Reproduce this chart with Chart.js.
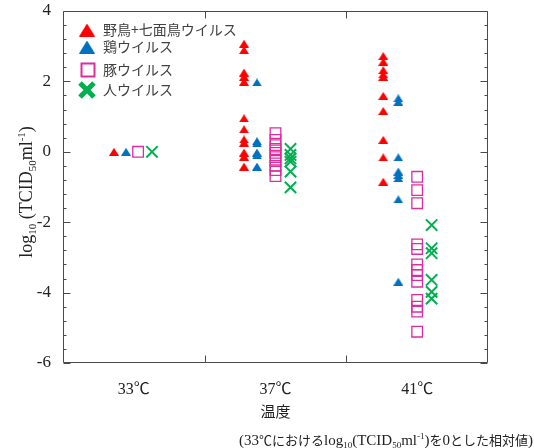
<!DOCTYPE html>
<html>
<head>
<meta charset="utf-8">
<script src="https://cdn.jsdelivr.net/npm/chart.js@4.4.0/dist/chart.umd.min.js"></script>
<style>
html, body { margin: 0; padding: 0; background: #fff; }
</style>
</head>
<body>
<canvas id="chart" width="534" height="448"></canvas>
<script>
// categories (temperature) and series names
var categories = ['33℃', '37℃', '41℃'];
var seriesNames = ['野鳥+七面鳥ウイルス', '鶏ウイルス', '豚ウイルス', '人ウイルス'];

// relative log10(TCID50/ml) values, one list per temperature
var wildBirdValues = [
    [0],
    [3.07, 2.89, 2.25, 2.13, 1.99, 0.95, 0.64, 0.35, 0.26, -0.02, -0.14, -0.42],
    [2.72, 2.56, 2.32, 2.2, 2.13, 1.59, 1.16, 0.34, -0.16, -0.85]
];
var chickenValues = [
    [0],
    [1.97, 0.3, 0.24, -0.02, -0.1, -0.42],
    [1.52, 1.42, -0.16, -0.56, -0.66, -0.75, -1.35, -3.69]
];
var swineValues = [
    [0],
    [0.53, 0.34, 0.19, 0.08, -0.03, -0.15, -0.26, -0.4, -0.52, -0.69],
    [-0.71, -1.09, -1.46, -2.63, -2.76, -3.2, -3.36, -3.5, -3.69, -4.21, -4.4, -4.54, -5.11]
];
var humanValues = [
    [0],
    [0.08, -0.09, -0.19, -0.28, -0.56, -1.01],
    [-2.08, -2.74, -2.88, -3.64, -3.98, -4.17]
];
var yTickValues = [-6, -4, -2, 0, 2, 4];

// horizontal offset of each series inside a temperature group [category][series]
var seriesOffsets = [
    [-0.14, -0.055, 0.03, 0.128],
    [-0.222, -0.131, 0, 0.106],
    [-0.239, -0.133, 0, 0.102]
];

var colors = ['#ff0000', '#0070c0', '#dd2c9e', '#00b050'];

function makeTriangle(color, w, h) {
    var cv = document.createElement('canvas');
    cv.width = w;
    cv.height = h;
    var c = cv.getContext('2d');
    c.fillStyle = color;
    c.beginPath();
    c.moveTo(w / 2, 0);
    c.lineTo(w, h);
    c.lineTo(0, h);
    c.closePath();
    c.fill();
    return cv;
}

function buildPoints(values, s) {
    var pts = [];
    values.forEach(function (list, c) {
        list.forEach(function (v) {
            pts.push({ x: c + seriesOffsets[c][s], y: v });
        });
    });
    return pts;
}

// draws a run of text pieces with their own font / vertical shift
function drawRich(ctx, segs, x, y, align) {
    var total = 0;
    segs.forEach(function (s) {
        ctx.font = s.font;
        s.w = ctx.measureText(s.t).width;
        total += s.w;
    });
    var cx = align === 'right' ? x - total : (align === 'center' ? x - total / 2 : x);
    ctx.textAlign = 'left';
    ctx.textBaseline = 'alphabetic';
    segs.forEach(function (s) {
        ctx.font = s.font;
        ctx.fillText(s.t, cx, y + (s.dy || 0));
        cx += s.w;
    });
}

var SERIF = "'Liberation Serif', 'Noto Sans CJK JP', serif";
var JP = "'Noto Sans CJK JP', sans-serif";

var framePlugin = {
    id: 'frame',
    afterDraw: function (chart) {
        var ctx = chart.ctx;
        var a = chart.chartArea;
        var xs = chart.scales.x, ys = chart.scales.y;
        var L = Math.round(a.left) + 0.5, R = Math.round(a.right) - 0.5;
        var T = Math.round(a.top) + 0.5, B = Math.round(a.bottom) - 0.5;

        ctx.save();
        ctx.strokeStyle = '#4a4a4a';
        ctx.lineWidth = 1;
        ctx.beginPath();
        ctx.rect(L, T, R - L, B - T);
        // minor ticks every 0.4
        for (var i = 1; i < 25; i++) {
            var yp = Math.round(ys.getPixelForValue(-6 + i * 0.4)) + 0.5;
            ctx.moveTo(L, yp); ctx.lineTo(L + 3, yp);
            ctx.moveTo(R, yp); ctx.lineTo(R - 3, yp);
        }
        // major ticks
        yTickValues.forEach(function (v) {
            var yp = Math.round(ys.getPixelForValue(v)) + 0.5;
            ctx.moveTo(L, yp); ctx.lineTo(L + 7, yp);
            ctx.moveTo(R, yp); ctx.lineTo(R - 7, yp);
        });
        // category separators
        for (var c = 1; c < categories.length; c++) {
            var xp = Math.round(xs.getPixelForValue(c - 0.5)) + 0.5;
            ctx.moveTo(xp, T); ctx.lineTo(xp, T + 7);
            ctx.moveTo(xp, B); ctx.lineTo(xp, B - 7);
        }
        ctx.stroke();

        // legend
        var lx = 87, ly = [30, 47, 70, 90];
        var bigRed = makeTriangle(colors[0], 16, 13);
        var bigBlue = makeTriangle(colors[1], 16, 13);
        ctx.drawImage(bigRed, lx - 8, ly[0] - 6.5);
        ctx.drawImage(bigBlue, lx - 8, ly[1] - 6.5);
        ctx.strokeStyle = colors[2];
        ctx.lineWidth = 2;
        ctx.strokeRect(lx - 5.5, ly[2] - 6.5, 13, 13);
        ctx.strokeStyle = colors[3];
        ctx.lineWidth = 5;
        ctx.beginPath();
        ctx.moveTo(lx - 7, ly[3] - 7); ctx.lineTo(lx + 7, ly[3] + 7);
        ctx.moveTo(lx + 7, ly[3] - 7); ctx.lineTo(lx - 7, ly[3] + 7);
        ctx.stroke();
        ctx.fillStyle = '#404040';
        ctx.font = '14px ' + JP;
        ctx.textAlign = 'left';
        ctx.textBaseline = 'middle';
        seriesNames.forEach(function (n, k) {
            ctx.fillText(n, 103, ly[k]);
        });

        // axis titles and note
        ctx.fillStyle = '#222';
        ctx.font = '15px ' + JP;
        ctx.textAlign = 'center';
        ctx.textBaseline = 'middle';
        ctx.fillText('温度', (a.left + a.right) / 2, 411);

        ctx.save();
        ctx.translate(31.5, 192);
        ctx.rotate(-Math.PI / 2);
        var big = '18px ' + SERIF, small = '11px ' + SERIF;
        drawRich(ctx, [
            { t: 'log', font: big },
            { t: '10', font: small, dy: 4 },
            { t: ' (TCID', font: big },
            { t: '50', font: small, dy: 4 },
            { t: 'ml', font: big },
            { t: '-1', font: small, dy: -7 },
            { t: ')', font: big }
        ], 0, 0, 'center');
        ctx.restore();

        var lf = '15px ' + SERIF, sf = '9px ' + SERIF, jf = '13px ' + JP;
        drawRich(ctx, [
            { t: '(33', font: lf },
            { t: '℃における', font: jf },
            { t: 'log', font: lf },
            { t: '10', font: sf, dy: 3 },
            { t: '(TCID', font: lf },
            { t: '50', font: sf, dy: 3 },
            { t: 'ml', font: lf },
            { t: '-1', font: sf, dy: -6 },
            { t: ')', font: lf },
            { t: 'を', font: jf },
            { t: '0', font: lf },
            { t: 'とした相対値', font: jf },
            { t: ')', font: lf }
        ], 533, 445, 'right');
        ctx.restore();
    }
};

var datasets = [
    { label: seriesNames[0], data: buildPoints(wildBirdValues, 0), pointStyle: makeTriangle(colors[0], 10, 8) },
    { label: seriesNames[1], data: buildPoints(chickenValues, 1), pointStyle: makeTriangle(colors[1], 10, 8) },
    {
        label: seriesNames[2], data: buildPoints(swineValues, 2), pointStyle: 'rect',
        pointRadius: 7.5, borderColor: colors[2], backgroundColor: 'rgba(0,0,0,0)', borderWidth: 1.3
    },
    {
        label: seriesNames[3], data: buildPoints(humanValues, 3), pointStyle: 'crossRot',
        pointRadius: 8, borderColor: colors[3], backgroundColor: colors[3], borderWidth: 2
    }
];

var chart = new Chart(document.getElementById('chart').getContext('2d'), {
    type: 'scatter',
    data: { datasets: datasets },
    options: {
        responsive: false,
        animation: false,
        events: [],
        layout: { padding: { top: 11, right: 46, left: 0, bottom: 0 } },
        plugins: {
            legend: { display: false },
            tooltip: { enabled: false }
        },
        scales: {
            x: {
                type: 'linear',
                min: -0.5,
                max: categories.length - 0.5,
                grid: { display: false, drawTicks: false },
                border: { display: false },
                afterBuildTicks: function (scale) {
                    scale.ticks = categories.map(function (c, i) { return { value: i }; });
                },
                afterFit: function (scale) {
                    scale.height = 85;
                    scale.paddingLeft = 0;
                    scale.paddingRight = 0;
                },
                ticks: {
                    padding: 17,
                    color: '#222',
                    font: { family: SERIF, size: 16 },
                    callback: function (v) { return categories[v]; }
                }
            },
            y: {
                min: -6,
                max: 4,
                grid: { display: false, drawTicks: false },
                border: { display: false },
                afterBuildTicks: function (scale) {
                    scale.ticks = yTickValues.map(function (v) { return { value: v }; });
                },
                afterFit: function (scale) {
                    scale.width = 63;
                    scale.paddingTop = 0;
                    scale.paddingBottom = 0;
                },
                ticks: {
                    padding: 12,
                    color: '#222',
                    font: { family: SERIF, size: 17 }
                }
            }
        }
    },
    plugins: [framePlugin]
});
</script>
</body>
</html>
